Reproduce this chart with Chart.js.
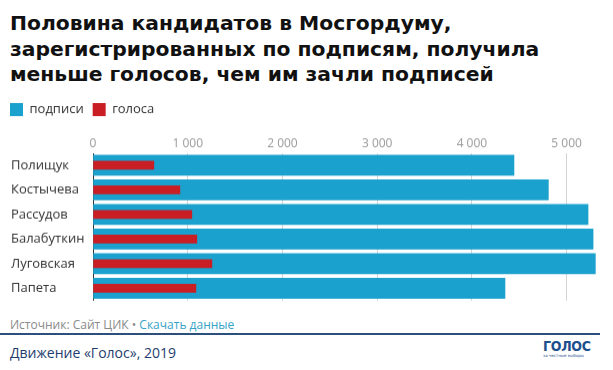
<!DOCTYPE html>
<html>
<head>
<meta charset="utf-8">
<script src="https://cdn.jsdelivr.net/npm/chart.js@4"></script>
<style>
  body { margin: 0; width: 613px; height: 370px; position: relative; background: #fff; overflow: hidden; }
  #title { position: absolute; left: 10px; top: 11px; font: bold 20.3px 'DejaVu Sans'; line-height: 25.5px; color: #111; white-space: nowrap; }
  #wrap { position: absolute; left: -9px; top: 94px; width: 622px; height: 216.5px; }
  #source { position: absolute; left: 10px; top: 316px; font: 12px 'Open Sans'; color: #8a8a8a; white-space: nowrap; }
  #source span { color: #35a3c9; }
  #rule { position: absolute; left: 0; top: 333px; width: 600px; height: 2px; background: #2d4f7c; }
  #org { position: absolute; left: 10px; top: 343px; font: 14px 'Open Sans'; color: #1f3d6e; white-space: nowrap; }
  #logo { position: absolute; left: 543px; top: 339px; color: #1d4f8c; }
  #logo b { display: block; font: bold 14px 'DejaVu Sans Condensed'; line-height: 14px; letter-spacing: -0.3px; }
  #logo i { display: block; font: normal 4px 'DejaVu Sans'; font-style: normal; line-height: 5px; }
</style>
</head>
<body>
<div id="title">Половина кандидатов в Мосгордуму,<br>зарегистрированных по подписям, получила<br>меньше голосов, чем им зачли подписей</div>
<div id="wrap"><canvas id="grafico"></canvas></div>
<div id="source">Источник: Сайт ЦИК • <span>Скачать данные</span></div>
<div id="rule"></div>
<div id="org">Движение «Голос», 2019</div>
<div id="logo"><b>ГОЛОС</b><i>за честные выборы</i></div>
<script>
const candidatos = ['Полищук', 'Костычева', 'Рассудов', 'Балабуткин', 'Луговская', 'Папета'];
const podpisi = [4444, 4807, 5226, 5279, 5303, 4349];
const golosa = [642, 917, 1043, 1096, 1255, 1086];
const ticksX = [0, 1000, 2000, 3000, 4000, 5000];

function fmt(v) {
    return String(v).replace(/\B(?=(\d{3})+(?!\d))/g, ' ');
}

// a bit more room under the legend, and legend pulled to the left edge
const legendGap = {
    id: 'legendGap',
    beforeInit(chart) {
        const fit = chart.legend.fit;
        chart.legend.fit = function () {
            fit.bind(chart.legend)();
            this.height += 8.3;
        };
    },
    afterLayout(chart) {
        chart.legend.left -= 10;
        chart.legend.right -= 10;
    }
};

const ctx = document.getElementById('grafico').getContext('2d');

new Chart(ctx, {
    type: 'bar',
    data: {
        labels: candidatos,
        datasets: [
            { label: 'подписи', data: podpisi, backgroundColor: '#1ba1cd', barThickness: 20, order: 1 },
            { label: 'голоса', data: golosa, backgroundColor: '#c81e24', barThickness: 8, order: 0 }
        ]
    },
    options: {
        indexAxis: 'y',
        responsive: true,
        maintainAspectRatio: false,
        animation: false,
        layout: { padding: { left: 20, right: 17, top: 0, bottom: 6 } },
        scales: {
            x: {
                position: 'top',
                min: 0,
                max: 5310,
                afterBuildTicks: (scale) => { scale.ticks = ticksX.map(v => ({ value: v })); },
                ticks: {
                    color: '#999',
                    font: { family: 'Open Sans', size: 12 },
                    padding: 2,
                    callback: (v) => fmt(v)
                },
                grid: {
                    drawTicks: false,
                    color: (c) => c.index === 0 ? '#333' : '#d4d4d4'
                },
                border: { display: false }
            },
            y: {
                stacked: true,
                afterFit: (scale) => { scale.width = 82; },
                ticks: {
                    crossAlign: 'far',
                    color: '#333',
                    font: { family: 'Open Sans', size: 13 }
                },
                grid: { display: false },
                border: { display: false }
            }
        },
        plugins: {
            legend: {
                display: true,
                align: 'start',
                labels: {
                    boxWidth: 13,
                    boxHeight: 13,
                    color: '#333',
                    font: { family: 'Open Sans', size: 13 },
                    padding: 9,
                    sort: (a, b) => a.datasetIndex - b.datasetIndex
                }
            },
            tooltip: { enabled: false }
        }
    },
    plugins: [legendGap]
});
</script>
</body>
</html>
